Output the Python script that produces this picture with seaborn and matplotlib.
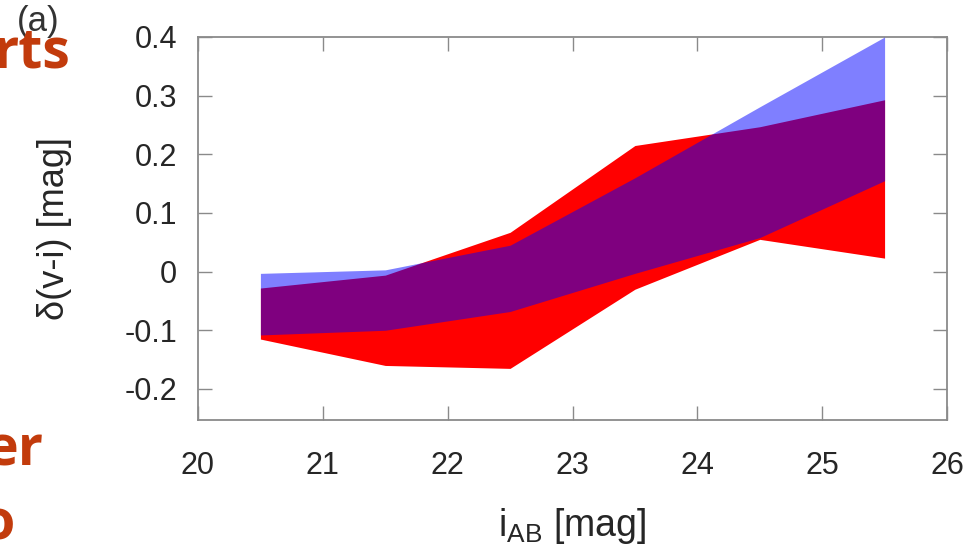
import matplotlib
matplotlib.use("Agg")
import matplotlib.pyplot as plt
from matplotlib import font_manager
import seaborn as sns
import numpy as np

# ---- data ----
x_mag = [20.5, 21.5, 22.5, 23.5, 24.5, 25.5]
red_lower = [-0.115, -0.160, -0.165, -0.030, 0.055, 0.023]
red_upper = [-0.028, -0.006, 0.067, 0.215, 0.247, 0.293]
blue_lower = [-0.108, -0.100, -0.068, -0.003, 0.058, 0.155]
blue_upper = [-0.003, 0.003, 0.045, 0.160, 0.281, 0.400]

xticks = [20, 21, 22, 23, 24, 25, 26]
yticks = [-0.2, -0.1, 0.0, 0.1, 0.2, 0.3, 0.4]
ytick_labels = ["-0.2", "-0.1", "0", "0.1", "0.2", "0.3", "0.4"]

sns.set_theme(style="white")
names = {f.name for f in font_manager.fontManager.ttflist}
base_font = "Liberation Sans" if "Liberation Sans" in names else "DejaVu Sans"
plt.rcParams["font.family"] = [base_font, "DejaVu Sans"]
plt.rcParams["axes.unicode_minus"] = False
plt.rcParams["mathtext.default"] = "regular"

fig = plt.figure(figsize=(9.77, 5.52), dpi=100)
ax = fig.add_axes([198 / 977, 1 - 420 / 552, (947 - 198) / 977, (420 - 37) / 552])

ax.fill_between(x_mag, red_lower, red_upper, color="#ff0000", linewidth=0, zorder=2)
ax.fill_between(x_mag, blue_lower, blue_upper, color="#0000ff", alpha=0.5, linewidth=0, zorder=3)

ax.set_xlim(20, 26)
ax.set_ylim(-0.253, 0.4)
ax.set_xticks(xticks)
ax.set_xticklabels([str(v) for v in xticks])
ax.set_yticks(yticks)
ax.set_yticklabels(ytick_labels)

grey = "#8a8a8a"
for s in ax.spines.values():
    s.set_color(grey)
    s.set_linewidth(1.3)
    s.set_visible(True)
ax.tick_params(axis="both", which="both", direction="in", length=10, width=1.0,
               color=grey, top=True, right=True, bottom=True, left=True,
               labelsize=22, labelcolor="#262626")
ax.tick_params(axis="x", pad=22)
ax.tick_params(axis="y", pad=15)

ax.set_xlabel("$i_{AB}$ [mag]", fontsize=27, color="#262626", va="top")
ax.xaxis.set_label_coords(0.5, -0.225)
ax.set_ylabel("δ(v-i) [mag]", fontsize=26, color="#262626", va="center")
ax.yaxis.set_label_coords(-0.191, 0.5)

# panel label and cropped slide text
fig.text(38 / 977, 1 - 22 / 552, "(a)", fontsize=25, color="#333333", ha="center", va="center")
slide_font = "Open Sans" if "Open Sans" in names else base_font
orange = "#c23b0c"
fig.text(70 / 977, 1 - 67 / 552, "rts", fontsize=40, fontweight="bold", color=orange,
         ha="right", va="baseline", family=[slide_font, "DejaVu Sans"])
fig.text(43 / 977, 1 - 465 / 552, "er", fontsize=40, fontweight="bold", color=orange,
         ha="right", va="baseline", family=[slide_font, "DejaVu Sans"])
fig.text(15 / 977, 1 - 540 / 552, "o", fontsize=40, fontweight="bold", color=orange,
         ha="right", va="baseline", family=[slide_font, "DejaVu Sans"])

fig.savefig("out.png", dpi=100)
